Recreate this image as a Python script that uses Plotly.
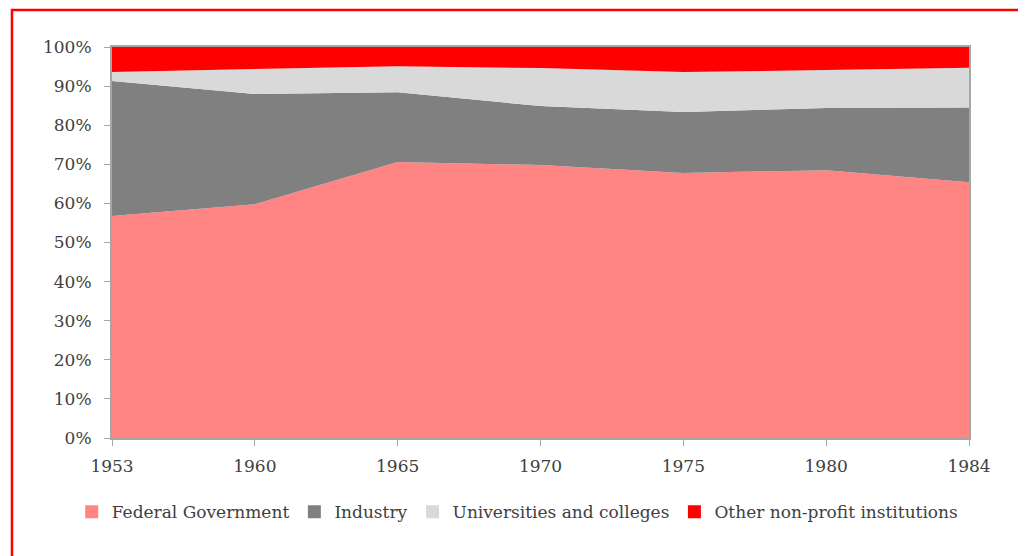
import plotly.graph_objects as go

years = ["1953", "1960", "1965", "1970", "1975", "1980", "1984"]
federal = [56.8, 59.8, 70.6, 69.8, 67.8, 68.5, 65.4]
industry = [34.5, 28.2, 17.8, 15.1, 15.6, 15.9, 19.1]
universities = [2.3, 6.4, 6.7, 9.7, 10.2, 9.7, 10.2]
other = [6.4, 5.6, 4.9, 5.4, 6.4, 5.9, 5.3]

series = [
    ("Federal Government", federal, "#FF8585"),
    ("Industry", industry, "#808080"),
    ("Universities and colleges", universities, "#D9D9D9"),
    ("Other non-profit institutions", other, "#FF0000"),
]

fig = go.Figure()
for name, vals, color in series:
    fig.add_trace(go.Scatter(
        x=years, y=vals, name=name,
        mode="lines", stackgroup="one",
        line=dict(width=0, color=color),
        fillcolor=color, showlegend=False,
    ))

# square legend keys
for name, vals, color in series:
    fig.add_trace(go.Scatter(
        x=[None], y=[None], name=name, mode="markers",
        marker=dict(symbol="square", size=13, color=color),
    ))

axis_font = dict(family="DejaVu Serif", size=17, color="#404040")

fig.update_layout(
    width=1018, height=548,
    margin=dict(l=104, r=57, t=39, b=118),
    paper_bgcolor="white",
    plot_bgcolor="white",
    font=axis_font,
    showlegend=True,
    legend=dict(
        orientation="h", traceorder="normal",
        x=-0.047, xanchor="left",
        y=-0.19, yanchor="middle",
        font=dict(family="DejaVu Serif", size=17, color="#404040"),
        itemwidth=30,
    ),
    xaxis=dict(
        type="category", range=[0, 6],
        showgrid=False, showline=True, linecolor="#A6A6A6", linewidth=2,
        mirror=True, ticks="outside", ticklen=6, tickcolor="#A6A6A6",
        tickfont=axis_font, ticklabelstandoff=6,
    ),
    yaxis=dict(
        range=[0, 100], dtick=10, ticksuffix="%",
        showgrid=False, showline=True, linecolor="#A6A6A6", linewidth=2,
        mirror=True, ticks="outside", ticklen=6, tickcolor="#A6A6A6",
        tickfont=axis_font, zeroline=False, ticklabelstandoff=9,
    ),
    shapes=[dict(
        type="rect", xref="paper", yref="paper",
        x0=-0.1167, x1=1.2, y0=-0.4, y1=1.0946,
        line=dict(color="#FF0000", width=2.5),
        fillcolor="rgba(0,0,0,0)", layer="above",
    )],
)

fig.write_html("out.html")
